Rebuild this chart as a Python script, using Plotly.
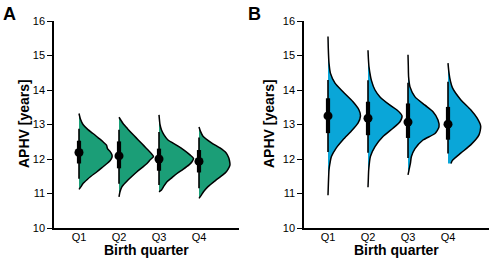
import plotly.graph_objects as go

# ---------------- data ----------------
quarters = ["Q1", "Q2", "Q3", "Q4"]
y_ticks = [10, 11, 12, 13, 14, 15, 16]

# Panel A: density profiles (APHV grid, relative half-width)
a_q1_y = [13.32, 13.15, 13.0, 12.85, 12.74, 12.62, 12.50, 12.40, 12.30, 12.22, 12.12, 12.05, 11.95, 11.87, 11.75, 11.63, 11.50, 11.40, 11.29, 11.20, 11.12]
a_q1_d = [0, 1.5, 4, 9, 14, 19, 24, 27.5, 28.5, 31, 33, 33, 31, 28, 23, 18, 12, 8, 4, 2, 0]
a_q2_y = [13.21, 13.03, 12.88, 12.74, 12.62, 12.50, 12.38, 12.26, 12.15, 12.07, 11.97, 11.87, 11.75, 11.63, 11.50, 11.39, 11.20, 11.05, 10.90]
a_q2_d = [0, 4, 8.5, 13, 17, 21, 25, 29, 32.5, 34.5, 31, 28, 23, 18, 13, 9, 3, 1, 0]
a_q3_y = [13.28, 13.0, 12.84, 12.70, 12.55, 12.41, 12.26, 12.12, 12.02, 11.92, 11.83, 11.70, 11.58, 11.46, 11.34, 11.22, 11.10, 11.05]
a_q3_d = [0, 1, 2.5, 5, 9, 17, 25, 31, 34.5, 33, 30, 24, 18, 13, 8, 5, 2.5, 0]
a_q4_y = [12.93, 12.80, 12.66, 12.47, 12.32, 12.18, 12.05, 11.95, 11.83, 11.70, 11.59, 11.40, 11.20, 11.05, 10.96, 10.86]
a_q4_d = [0, 1.5, 4, 12.5, 21, 27, 29.5, 30.5, 31, 29, 26, 17.5, 9, 4.5, 2.5, 0]

# Panel B: density profiles
b_q1_y = [15.55, 15.2, 14.78, 14.49, 14.20, 13.95, 13.66, 13.42, 13.25, 13.04, 12.80, 12.56, 12.31, 12.07, 11.85, 11.68, 11.3, 10.95]
b_q1_d = [0, 0.3, 1, 2.4, 7, 15, 25, 31, 32.5, 30, 23, 15, 8, 3.4, 1.8, 1, 0.4, 0]
b_q2_y = [15.15, 14.9, 14.67, 14.28, 14.0, 13.80, 13.56, 13.42, 13.25, 13.08, 12.89, 12.65, 12.36, 12.07, 11.68, 11.4, 11.18]
b_q2_d = [0, 0.4, 1, 3.4, 7, 12, 22, 29, 34, 32, 25, 15, 7, 2.4, 0.7, 0.3, 0]
b_q3_y = [15.02, 14.7, 14.38, 14.09, 13.80, 13.56, 13.37, 13.13, 12.93, 12.74, 12.55, 12.30, 12.07, 11.87, 11.68, 11.54]
b_q3_d = [0, 0.3, 0.6, 2, 7, 17, 25, 30, 31, 27, 15, 7, 3.4, 2.4, 1, 0]
b_q4_y = [14.78, 14.49, 14.25, 14.06, 13.72, 13.43, 13.19, 12.95, 12.70, 12.41, 12.17, 11.96, 11.87]
b_q4_d = [0, 1, 2.5, 4.5, 12.7, 22.7, 29, 32.7, 31, 22.7, 12.7, 4.4, 3]

# Point + interval summaries
a_mean = [12.19, 12.09, 12.00, 11.93]
a_q66_lo = [11.87, 11.73, 11.66, 11.61]
a_q66_hi = [12.53, 12.51, 12.30, 12.26]
a_q95_lo = [11.43, 11.28, 11.25, 11.15]
a_q95_hi = [12.88, 12.85, 12.78, 12.62]

b_mean = [13.25, 13.18, 13.07, 13.01]
b_q66_lo = [12.75, 12.69, 12.61, 12.56]
b_q66_hi = [13.76, 13.66, 13.61, 13.51]
b_q95_lo = [12.20, 12.18, 12.03, 12.16]
b_q95_hi = [14.29, 14.28, 14.21, 14.24]

# ---------------- figure ----------------
W, H = 489, 260
XSCALE = 0.025  # density -> category units
GREEN = "#1b9e77"
BLUE = "#0aa6d8"

fig = go.Figure()

panels = [
    dict(xa="x", ya="y", color=GREEN,
         dens=[(a_q1_y, a_q1_d), (a_q2_y, a_q2_d), (a_q3_y, a_q3_d), (a_q4_y, a_q4_d)],
         mean=a_mean, lo66=a_q66_lo, hi66=a_q66_hi, lo95=a_q95_lo, hi95=a_q95_hi),
    dict(xa="x2", ya="y2", color=BLUE,
         dens=[(b_q1_y, b_q1_d), (b_q2_y, b_q2_d), (b_q3_y, b_q3_d), (b_q4_y, b_q4_d)],
         mean=b_mean, lo66=b_q66_lo, hi66=b_q66_hi, lo95=b_q95_lo, hi95=b_q95_hi),
]

for p in panels:
    for i, (yy, dd) in enumerate(p["dens"]):
        pos = i + 1
        xs = [pos + d * XSCALE for d in dd]
        fig.add_trace(go.Scatter(
            x=[pos] + xs + [pos], y=[yy[0]] + yy + [yy[-1]],
            fill="toself", fillcolor=p["color"], mode="lines",
            line=dict(width=0), hoverinfo="skip", showlegend=False,
            xaxis=p["xa"], yaxis=p["ya"]))
        fig.add_trace(go.Scatter(
            x=xs, y=yy, mode="lines", line=dict(color="black", width=1.5, shape="spline", smoothing=0.6),
            hoverinfo="skip", showlegend=False, xaxis=p["xa"], yaxis=p["ya"]))
    for lo, hi, w in [(p["lo95"], p["hi95"], 1.6), (p["lo66"], p["hi66"], 4.2)]:
        xs, ys = [], []
        for i in range(4):
            xs += [i + 1, i + 1, None]
            ys += [lo[i], hi[i], None]
        fig.add_trace(go.Scatter(x=xs, y=ys, mode="lines", line=dict(color="black", width=w),
                                 hoverinfo="skip", showlegend=False, xaxis=p["xa"], yaxis=p["ya"]))
    fig.add_trace(go.Scatter(x=[1, 2, 3, 4], y=p["mean"], mode="markers",
                             marker=dict(color="black", size=9),
                             hoverinfo="skip", showlegend=False, xaxis=p["xa"], yaxis=p["ya"]))

ydom = [(H - 228) / H, (H - 21) / H]
xdomA = [54 / W, 239 / W]
xdomB = [304 / W, 1.0]

font_tick = dict(family="Liberation Sans, Arial, sans-serif", size=11, color="black")
xcommon = dict(tickmode="array", tickvals=[1, 2, 3, 4], ticktext=quarters,
               showgrid=False, zeroline=False, showline=True, linecolor="black", linewidth=1.5,
               ticks="", tickfont=font_tick, fixedrange=True, automargin=False,
               ticklabelstandoff=-2)
ycommon = dict(range=[10, 16], tickvals=y_ticks, showgrid=False, zeroline=False,
               showline=True, linecolor="black", linewidth=1.5, ticks="outside",
               ticklen=5, tickwidth=1.2, tickcolor="black", tickfont=font_tick, automargin=False)

fig.update_layout(
    width=W, height=H, margin=dict(l=0, r=0, t=0, b=0, pad=0),
    plot_bgcolor="white", paper_bgcolor="white",
    xaxis=dict(domain=xdomA, range=[0.375, 5.0], anchor="y", **xcommon),
    yaxis=dict(domain=ydom, anchor="x", **ycommon),
    xaxis2=dict(domain=xdomB, range=[0.4, 5.025], anchor="y2", **xcommon),
    yaxis2=dict(domain=ydom, anchor="x2", **ycommon),
)

title_font = dict(family="Liberation Sans, Arial, sans-serif", size=14, color="black")
ann = []
for lab, x0, xc in [("A", 1, 146.5), ("B", 246, 396.5)]:
    ann.append(dict(text="<b>%s</b>" % lab, x=x0 / W, y=1 - 2 / H, xref="paper", yref="paper",
                    xanchor="left", yanchor="top", showarrow=False,
                    font=dict(family="Liberation Sans, Arial, sans-serif", size=18, color="black")))
    ann.append(dict(text="<b>Birth quarter</b>", x=xc / W, y=(H - 250) / H, xref="paper", yref="paper",
                    xanchor="center", yanchor="middle", showarrow=False, font=title_font))
    ann.append(dict(text="<b>APHV [years]</b>", x=(x0 + 23) / W, y=(H - 124) / H, xref="paper", yref="paper",
                    xanchor="center", yanchor="middle", textangle=-90, showarrow=False, font=title_font))
fig.update_layout(annotations=ann)

fig.write_html("out.html", config={"displayModeBar": False},
               post_script="document.body.style.margin='0px';")
